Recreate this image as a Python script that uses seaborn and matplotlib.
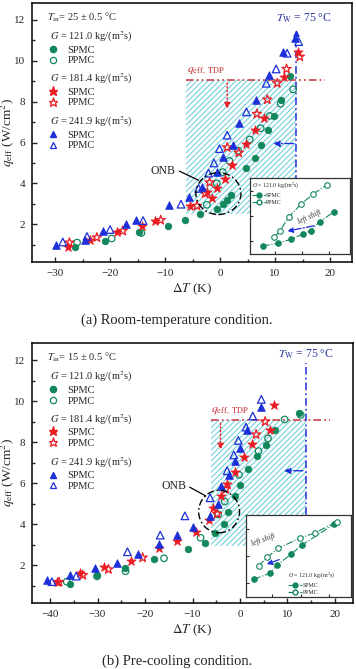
import numpy as np
import pandas as pd
import matplotlib
matplotlib.use('Agg')
import matplotlib.pyplot as plt
import seaborn as sns
from matplotlib.lines import Line2D
from matplotlib.patches import Ellipse
from matplotlib.ticker import MultipleLocator

sns.set_style('ticks')
plt.rcParams['font.family'] = ['Liberation Serif', 'DejaVu Serif']
plt.rcParams['mathtext.fontset'] = 'stix'
plt.rcParams['hatch.linewidth'] = 0.7

GREEN = '#13875c'
RED = '#ec1c24'
BLUE = '#1c2fd8'
DRED = '#c8323a'
DBLUE = '#2c3a9c'
CYAN = '#62cad8'

# ---------------- data, panel (a) room temperature ----------------
a_g121_spmc_x = [-26.3, -21.0, -14.7, -9.5, -6.4, -3.6, -0.6, 0.5, 1.3, 2.0, 4.8, 6.4, 7.4, 8.7, 9.9, 11.1, 12.7]
a_g121_spmc_y = [0.9, 1.2, 1.6, 1.9, 2.2, 2.5, 2.75, 3.0, 3.2, 3.45, 4.77, 5.25, 5.9, 6.6, 7.3, 8.1, 9.25]
a_g121_ppmc_x = [-26.0, -19.7, -14.3, -2.4, -0.6, 0.5, 1.7, 3.3, 5.4, 7.4, 9.0, 11.0, 13.3]
a_g121_ppmc_y = [1.1, 1.3, 1.57, 2.95, 4.0, 4.55, 5.1, 5.6, 6.15, 6.7, 7.3, 7.9, 8.6]
a_g181_spmc_x = [-27.7, -23.7, -18.7, -14.2, -11.9, -5.5, -2.3, -1.5, -0.5, 0.9, 2.1, 4.8, 6.3, 8.0, 11.6, 14.2]
a_g181_spmc_y = [0.88, 1.22, 1.6, 1.93, 2.17, 2.9, 3.6, 3.26, 3.75, 4.2, 4.9, 5.95, 6.6, 7.2, 9.2, 10.45]
a_g181_ppmc_x = [-27.4, -22.4, -17.7, -10.8, -4.2, -2.7, -1.9, 1.3, 3.4, 6.7, 8.6, 10.4, 12.1, 14.5]
a_g181_ppmc_y = [1.1, 1.35, 1.67, 2.2, 2.9, 3.5, 4.05, 5.76, 5.5, 7.4, 8.1, 8.9, 9.6, 10.2]
a_g241_spmc_x = [-29.9, -24.5, -21.2, -17.1, -15.2, -9.2, -5.6, -3.3, -0.5, 0.6, 2.4, 3.45, 6.6, 8.85, 11.5, 13.7]
a_g241_spmc_y = [0.97, 1.25, 1.65, 2.0, 2.2, 2.93, 3.34, 3.83, 4.56, 5.3, 5.87, 6.97, 8.1, 9.3, 10.45, 11.1]
a_g241_ppmc_x = [-28.6, -24.2, -20.0, -14.0, -7.1, -3.9, -2.1, -1.1, -0.1, 1.3, 4.8, 8.4, 10.2, 12.2, 14.3]
a_g241_ppmc_y = [1.13, 1.4, 1.74, 2.18, 2.98, 3.75, 4.5, 5.0, 5.7, 6.36, 7.5, 8.9, 9.6, 10.37, 10.94]

# ---------------- data, panel (b) pre-cooling ----------------
b_g121_spmc_x = [-35.9, -30.2, -24.2, -18.2, -10.9, -7.3, -5.2, -3.4, -2.5, -1.1, 0.0, 1.7, 3.6, 5.5, 7.3, 12.4]
b_g121_spmc_y = [1.09, 1.51, 1.84, 2.28, 2.77, 3.09, 3.58, 4.0, 4.6, 5.37, 5.9, 6.7, 7.3, 7.85, 8.57, 9.43]
b_g121_ppmc_x = [-36.5, -30.1, -24.1, -16.0, -8.3, -4.6, -3.2, -0.2, 3.9, 5.9, 9.4, 12.8]
b_g121_ppmc_y = [1.19, 1.45, 1.7, 2.33, 3.33, 4.47, 5.1, 6.4, 7.56, 8.18, 9.1, 9.32]
b_g181_spmc_x = [-38.5, -33.7, -28.6, -23.0, -17.0, -13.3, -9.2, -6.6, -5.7, -3.9, -2.7, -1.05, 0.85, 2.45, 6.25, 7.2]
b_g181_spmc_y = [1.18, 1.62, 1.9, 2.2, 2.81, 3.17, 3.63, 4.18, 4.77, 5.37, 5.94, 6.55, 7.27, 7.92, 8.57, 9.8]
b_g181_ppmc_x = [-38.1, -33.1, -27.7, -20.5, -4.8, -3.0, 3.4, 5.3]
b_g181_ppmc_y = [1.17, 1.51, 1.79, 2.36, 4.5, 5.7, 8.37, 9.0]
b_g241_spmc_x = [-40.7, -35.9, -30.5, -25.8, -21.4, -17.0, -13.3, -9.9, -6.4, -4.6, -4.0, -2.25, -1.05, 0.0, 1.5, 4.5]
b_g241_spmc_y = [1.25, 1.51, 1.84, 2.11, 2.55, 3.04, 3.46, 3.85, 4.4, 4.96, 5.85, 6.39, 7.07, 7.72, 8.57, 9.7]
b_g241_ppmc_x = [-39.6, -34.5, -23.7, -16.8, -11.6, -6.3, -2.7, -1.3, -0.35, 1.26, 2.7, 4.5]
b_g241_ppmc_y = [1.19, 1.46, 2.65, 3.46, 4.4, 5.28, 6.6, 7.37, 8.08, 8.73, 9.27, 10.08]

# inset sketches (arbitrary 0-100 units)
ins_a_spmc_x = [13.1, 28.5, 41, 53.4, 60.7, 69.8, 84.3]
ins_a_spmc_y = [10.6, 14.1, 19.4, 26.4, 30.8, 42.7, 55.9]
ins_a_ppmc_x = [24.6, 30.5, 39.3, 51.5, 63.3, 77]
ins_a_ppmc_y = [22, 30.8, 49.3, 66.1, 79.3, 91.2]
ins_b_spmc_x = [7.3, 22.4, 29.7, 43.1, 53.4, 84]
ins_b_spmc_y = [21.9, 29.1, 39.3, 52.6, 63.6, 88.7]
ins_b_ppmc_x = [11.8, 20.1, 30.4, 51.1, 66.1, 87.2]
ins_b_ppmc_y = [38.1, 48.6, 59.5, 71.7, 78.5, 91.9]

groups = ['121.0', '181.4', '241.9']
group_colors = [GREEN, RED, BLUE]
group_markers = ['o', '*', '^']
group_sizes = [22, 48, 30]

W, H = 356, 669
fig = plt.figure(figsize=(W / 100, H / 100), dpi=100)


def px_axes(l, t, r, b):
    return fig.add_axes([l / W, 1 - b / H, (r - l) / W, (b - t) / H])


def scatter_group(ax, xs, ys, color, marker, s, filled):
    df = pd.DataFrame({'x': xs, 'y': ys})
    if filled:
        sns.scatterplot(data=df, x='x', y='y', ax=ax, marker=marker, s=s,
                        color=color, edgecolor=color, linewidth=0.6, zorder=5)
    else:
        sns.scatterplot(data=df, x='x', y='y', ax=ax, marker=marker, s=s,
                        color=color, facecolor='none', edgecolor=color, linewidth=0.9, zorder=5)


def group_legends(ax, tin):
    ax.text(0.046, 0.946, r'$T_{\rm in}$= ' + tin + ' ± 0.5 °C', transform=ax.transAxes,
            fontsize=7.5, va='center', ha='left')
    tops = [0.896, 0.734, 0.568]
    legs = []
    for g, c, m, top in zip(groups, group_colors, group_markers, tops):
        ms = 6.5 if m == '*' else 4.5
        h = [Line2D([], [], ls='none', marker=m, ms=ms, color=c, mec=c),
             Line2D([], [], ls='none', marker=m, ms=ms, mfc='none', mec=c, mew=0.9)]
        leg = ax.legend(h, ['SPMC', 'PPMC'], title=r'$G$ = ' + g + r' kg/(m$^2$s)',
                        loc='upper left', bbox_to_anchor=(0.055, top), frameon=False,
                        fontsize=7.5, title_fontsize=7.5, borderpad=0, borderaxespad=0,
                        handlelength=0.7, handletextpad=1.0, labelspacing=0.12,
                        alignment='left')
        legs.append(leg)
    # the last one stays as ax.legend_, the others are added as extra artists
    for leg in legs[:-1]:
        ax.add_artist(leg)


def style_axes(ax, xlim, xmajor):
    ax.set_xlim(*xlim)
    ax.set_ylim(0.15, 12.83)
    ax.xaxis.set_major_locator(MultipleLocator(xmajor))
    ax.xaxis.set_minor_locator(MultipleLocator(xmajor / 2))
    ax.yaxis.set_major_locator(MultipleLocator(2))
    ax.yaxis.set_minor_locator(MultipleLocator(1))
    ax.set_yticks([2, 4, 6, 8, 10, 12])
    ax.tick_params(which='both', direction='in', top=False, right=False, labelsize=8, pad=5, width=1.0)
    ax.tick_params(which='major', length=3.5)
    ax.tick_params(which='minor', length=2)
    for sp in ax.spines.values():
        sp.set_linewidth(1.1)
        sp.set_color('black')
    ax.set_xlabel(r'$\Delta T$ (K)', fontsize=9.5)
    ax.set_ylabel(r'$q_{\rm eff}$ (W/cm$^2$)', fontsize=9.5)
    ax.xaxis.set_label_coords(0.5, -0.075)
    ax.yaxis.set_label_coords(-0.048, 0.5)


def inset(ax_in, sx, sy, px, py, leg_loc, leg_anchor):
    sns.lineplot(x=sx, y=sy, ax=ax_in, color=GREEN, linestyle='-.', linewidth=0.8,
                 marker='o', markersize=4, markeredgecolor=GREEN, markerfacecolor=GREEN)
    sns.lineplot(x=px, y=py, ax=ax_in, color=GREEN, linestyle='-.', linewidth=0.8,
                 marker='o', markersize=4, markeredgecolor=GREEN, markerfacecolor='white',
                 markeredgewidth=0.8)
    ax_in.set_xlim(0, 100)
    ax_in.set_ylim(0, 100)
    ax_in.set_xlabel('')
    ax_in.set_ylabel('')
    ax_in.set_xticks([25, 52, 79])
    ax_in.set_yticks([17, 50, 83])
    ax_in.tick_params(direction='in', length=2, labelbottom=False, labelleft=False, width=0.8)
    for sp in ax_in.spines.values():
        sp.set_linewidth(0.9)
        sp.set_color('#333333')
    h = [Line2D([], [], ls='-.', lw=0.8, color=GREEN, marker='o', ms=3.5),
         Line2D([], [], ls='-.', lw=0.8, color=GREEN, marker='o', ms=3.5, mfc='white')]
    ax_in.legend(h, ['SPMC', 'PPMC'], title=r'$G$ = 121.0 kg/(m$^2$s)', loc=leg_loc,
                 bbox_to_anchor=leg_anchor, frameon=False, fontsize=4.2,
                 title_fontsize=4.2, borderpad=0, borderaxespad=0, handlelength=2.4,
                 handletextpad=0.1, labelspacing=0.3, alignment='left')


def annotations(ax, tdp, hx0, hx1, hy0, line_x1, arr_x, arr_y1, tw_top, tw_arrow, harr_y, harr_x1,
                tw_text_xy, tdp_text_xy, circ, onb_xy, onb_line):
    ax.fill_between([hx0, hx1], hy0, tdp, facecolor='none', edgecolor=CYAN, hatch='//////',
                    linewidth=0, zorder=1)
    ax.plot([hx0, line_x1], [tdp, tdp], color=DRED, lw=1.1, ls=(0, (5, 2, 1.2, 2, 1.2, 2)), zorder=3)
    ax.annotate('', xy=(arr_x, arr_y1), xytext=(arr_x, tdp),
                arrowprops=dict(arrowstyle='-|>', color=RED, lw=1.0, ls=':', mutation_scale=9), zorder=4)
    ax.text(*tdp_text_xy, r'$q_{\rm eff,\ TDP}$', color=DRED, fontsize=8.5, ha='left', va='bottom')
    ax.plot([hx1, hx1], [hy0, tw_top], color=BLUE, lw=1.1, ls=(0, (5, 2, 1.2, 2)), zorder=3)
    if tw_arrow:
        ax.annotate('', xy=(hx1, tw_top + 0.35), xytext=(hx1, tw_top - 0.4),
                    arrowprops=dict(arrowstyle='-|>', color=BLUE, lw=1.0, mutation_scale=9), zorder=4)
    ax.annotate('', xy=(harr_x1, harr_y), xytext=(hx1, harr_y),
                arrowprops=dict(arrowstyle='-|>', color=BLUE, lw=1.0, ls='-.', mutation_scale=9), zorder=4)
    ax.text(*tw_text_xy, r'$T_{\rm W}$ = 75 °C', color=DBLUE, fontsize=8.5, ha='center', va='center')
    ax.add_patch(Ellipse(circ[:2], circ[2], circ[3], fill=False, ec='black', lw=1.0,
                         ls=(0, (5, 2, 1.2, 2)), zorder=6))
    ax.text(*onb_xy, 'ONB', fontsize=8.5, ha='center', va='center')
    ax.plot(onb_line[0], onb_line[1], color='black', lw=0.9, zorder=6)


def panel(ax, data, xlim, xmajor, tin):
    annotations(ax, **data['ann'])
    for i, (c, m, s) in enumerate(zip(group_colors, group_markers, group_sizes)):
        sx, sy, px, py = data['series'][i]
        scatter_group(ax, sx, sy, c, m, s, True)
        scatter_group(ax, px, py, c, m, s, False)
    style_axes(ax, xlim, xmajor)
    group_legends(ax, tin)


ax_a = px_axes(32, 3, 352, 262)
panel(ax_a, {
    'series': [(a_g121_spmc_x, a_g121_spmc_y, a_g121_ppmc_x, a_g121_ppmc_y),
               (a_g181_spmc_x, a_g181_spmc_y, a_g181_ppmc_x, a_g181_ppmc_y),
               (a_g241_spmc_x, a_g241_spmc_y, a_g241_ppmc_x, a_g241_ppmc_y)],
    'ann': dict(tdp=9.05, hx0=-6.2, hx1=13.9, hy0=2.5, line_x1=19.0, arr_x=1.3, arr_y1=7.5,
                tw_top=11.3, tw_arrow=True, harr_y=5.95, harr_x1=9.2, tw_text_xy=(15.3, 12.1),
                tdp_text_xy=(-6.0, 9.2), circ=(-0.3, 3.5, 8.2, 2.05), onb_xy=(-10.3, 4.6),
                onb_line=([-7.4, -3.9], [4.6, 4.15]))
}, (-34.2, 24.0), 10, '25')
ins_a = px_axes(249.5, 178.3, 350, 254)
inset(ins_a, ins_a_spmc_x, ins_a_spmc_y, ins_a_ppmc_x, ins_a_ppmc_y, 'upper left', (0.02, 0.97))
ins_a.annotate('', xy=(35, 29.5), xytext=(67, 38),
               arrowprops=dict(arrowstyle='-|>', color=BLUE, lw=0.9, ls='-.', mutation_scale=8))
ins_a.text(60, 49, 'left shift', fontsize=5.5, style='italic', rotation=25, color='#333333',
           ha='center', va='center')

ax_b = px_axes(32, 343, 353, 603)
panel(ax_b, {
    'series': [(b_g121_spmc_x, b_g121_spmc_y, b_g121_ppmc_x, b_g121_ppmc_y),
               (b_g181_spmc_x, b_g181_spmc_y, b_g181_ppmc_x, b_g181_ppmc_y),
               (b_g241_spmc_x, b_g241_spmc_y, b_g241_ppmc_x, b_g241_ppmc_y)],
    'ann': dict(tdp=9.06, hx0=-6.0, hx1=13.8, hy0=2.95, line_x1=18.9, arr_x=-4.1, arr_y1=7.48,
                tw_top=11.87, tw_arrow=False, harr_y=6.6, harr_x1=8.7, tw_text_xy=(13.8, 12.3),
                tdp_text_xy=(-6.0, 9.2), circ=(-4.4, 4.61, 8.6, 2.07), onb_xy=(-14.0, 5.85),
                onb_line=([-10.6, -7.2], [5.8, 5.37]))
}, (-43.8, 23.8), 10, '15')
ins_b = px_axes(246.3, 515, 350.7, 597.3)
inset(ins_b, ins_b_spmc_x, ins_b_spmc_y, ins_b_ppmc_x, ins_b_ppmc_y, 'lower left', (0.40, 0.03))
ins_b.annotate('', xy=(17, 39), xytext=(34, 47),
               arrowprops=dict(arrowstyle='-|>', color=BLUE, lw=0.9, ls='-.', mutation_scale=8))
ins_b.text(16, 70, 'left shift', fontsize=5.5, style='italic', rotation=20, color='#333333',
           ha='center', va='center')

fig.text(0.497, 1 - 320.5 / H, '(a) Room-temperature condition.', fontsize=10.5, ha='center', va='center')
fig.text(0.497, 1 - 661.5 / H, '(b) Pre-cooling condition.', fontsize=10.5, ha='center', va='center')

fig.savefig('out.png', dpi=100)
